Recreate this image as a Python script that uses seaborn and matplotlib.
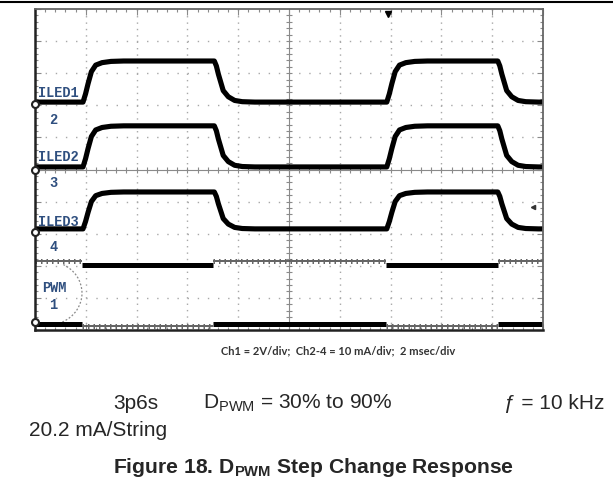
import numpy as np
import pandas as pd
import matplotlib
matplotlib.use("Agg")  # no display in the sandbox
import matplotlib.pyplot as plt
from matplotlib.lines import Line2D
from matplotlib.patches import Arc
import seaborn as sns

# ---------------------------------------------------------------------------
# Data (x in ms, 2 ms/div; y in screen divisions)
# ---------------------------------------------------------------------------
T_MAX_MS = 20.0
Y_HALF_DIV = 5.0

pwm_edges_ms = [1.85, 7.01, 13.82, 18.23]
pwm_duty = ["30%", "90%", "30%", "90%", "30%"]
pwm_high_30_div = -2.85
pwm_high_90_div = -2.98
pwm_low_30_div = -4.81
pwm_low_90_div = -4.88
pwm_ground_div = -4.75

led_rise_ms = [1.89, 13.85]
led_fall_ms = [7.06, 18.22]

# step shapes: time after the edge (ms) and fraction of the step done
rise_dt_ms = [0.0, 0.1, 0.2, 0.33, 0.5, 0.75, 1.1, 1.6]
rise_frac = [0.0, 0.2, 0.45, 0.74, 0.9, 0.96, 0.99, 1.0]
fall_dt_ms = [0.0, 0.08, 0.16, 0.35, 0.55, 0.8, 1.1, 1.6]
fall_frac = [0.0, 0.12, 0.32, 0.72, 0.87, 0.96, 0.99, 1.0]

channels = ["ILED1", "ILED2", "ILED3"]
led_low_div = [2.10, 0.08, -1.85]
led_high_div = [3.38, 1.36, -0.70]
led_ground_div = [2.04, 0.0, -1.95]

trace_labels = ["ILED1", "ILED2", "ILED3", "PWM"]
trace_label_div = [2.41, 0.42, -1.60, -3.66]
number_labels = ["2", "3", "4", "1"]
number_label_div = [1.57, -0.39, -2.38, -4.19]

LABEL_COLOR = "#2f4f7f"


def led_trace(name, low, high):
    t, v = [0.0], [low]
    for r, f in zip(led_rise_ms, led_fall_ms):
        t += [r + d for d in rise_dt_ms]
        v += [low + (high - low) * k for k in rise_frac]
        t += [f + d for d in fall_dt_ms]
        v += [high - (high - low) * k for k in fall_frac]
    t.append(T_MAX_MS)
    v.append(low)
    return pd.DataFrame({"t": t, "v": v, "channel": name})


df = pd.concat([led_trace(c, lo, hi)
                for c, lo, hi in zip(channels, led_low_div, led_high_div)],
               ignore_index=True)

# ---------------------------------------------------------------------------
# Figure
# ---------------------------------------------------------------------------
sns.set_style("white")
plt.rcParams["font.family"] = ["Liberation Sans", "DejaVu Sans"]
plt.rcParams["mathtext.fontset"] = "custom"
plt.rcParams["mathtext.rm"] = "Liberation Sans"
plt.rcParams["mathtext.bf"] = "Liberation Sans:bold"
plt.rcParams["mathtext.it"] = "Liberation Sans:italic"

fig = plt.figure(figsize=(6.13, 4.89), dpi=100)
ax = fig.add_axes([35 / 613, 1 - 331 / 489, 508 / 613, 321 / 489])
ax.set_xlim(0, T_MAX_MS)
ax.set_ylim(-Y_HALF_DIV, Y_HALF_DIV)

# dotted graticule
for gx in np.arange(2, T_MAX_MS, 2):
    if gx != 10:
        ax.axvline(gx, color="#a8a8a8", lw=1.0, ls=(0, (1, 3.6)), zorder=0)
for gy in np.arange(-4, 5, 1):
    if gy != 0:
        ax.axhline(gy, color="#a8a8a8", lw=1.0, ls=(0, (1, 6.3)), zorder=0)

# centre cross with minor ticks
ax.axvline(10, color="#8a8a8a", lw=0.8, zorder=0)
ax.axhline(0, color="#8a8a8a", lw=0.8, zorder=0)
cx = np.arange(0.4, T_MAX_MS, 0.4)
cy = np.arange(-4.8, 5, 0.2)
ax.plot(cx, np.zeros_like(cx), ls="none", marker="|", ms=4, mew=0.8,
        color="#8a8a8a", zorder=0)
ax.plot(np.full_like(cy, 10), cy, ls="none", marker="_", ms=4, mew=0.8,
        color="#8a8a8a", zorder=0)

# LED current traces
sns.lineplot(data=df, x="t", y="v", units="channel", estimator=None,
             sort=False, color="black", lw=3.7, legend=False, ax=ax)

# PWM trace (fast PWM shows as a top and a bottom rail)
seg_edges = [0.0] + pwm_edges_ms + [T_MAX_MS]
for t0, t1, duty in zip(seg_edges[:-1], seg_edges[1:], pwm_duty):
    if duty == "90%":
        thick, thin = pwm_high_90_div, pwm_low_90_div
    else:
        thick, thin = pwm_low_30_div, pwm_high_30_div
    ax.hlines(thick, t0, t1, color="black", lw=3.6)
    ax.hlines(thin, t0, t1, color="#555555", lw=1.3)
    ax.hlines(thin, t0, t1, color="#666666", lw=3.6,
              linestyles=(0, (0.3, 0.8)))

# ground markers on the left edge
ax.plot([0] * 4, led_ground_div + [pwm_ground_div], ls="none", marker="o",
        ms=5, mfc="white", mec="#222222", mew=1.5, clip_on=False, zorder=5)

# trigger position / level markers
ax.plot([13.9], [4.85], ls="none", marker="v", ms=4, color="black",
        clip_on=False)
ax.plot([19.6], [-1.17], ls="none", marker="<", ms=3, color="#333333",
        clip_on=False)

# dotted arc around the PWM label
ax.add_patch(Arc((0.51, -3.85), 2.68, 1.99, theta1=-58, theta2=58,
                 color="#8a8a8a", lw=0.9, ls=(0, (1.5, 1.5))))

# channel labels
for name, y in zip(trace_labels, trace_label_div):
    x0 = 0.28 if name == "PWM" else 0.12
    ax.text(x0, y, name, family="Liberation Mono", fontweight="bold",
            fontsize=9.8, color=LABEL_COLOR, ha="left", va="center")
for num, y in zip(number_labels, number_label_div):
    ax.text(0.73, y, num, family="Liberation Mono", fontweight="bold",
            fontsize=9.8, color=LABEL_COLOR, ha="center", va="center")

# frame
ax.set_xticks(np.arange(0, T_MAX_MS + 0.1, 2))
ax.set_yticks(np.arange(-5, 6, 1))
ax.set_xticks(np.arange(0, T_MAX_MS + 0.1, 0.4), minor=True)
ax.set_yticks(np.arange(-5, 5.1, 0.2), minor=True)
ax.tick_params(which="both", direction="in", top=True, right=True,
               bottom=True, left=True, labelbottom=False, labelleft=False,
               color="#8a8a8a", width=0.8)
ax.tick_params(which="major", length=4)
ax.tick_params(which="minor", length=2.5)
ax.set_xlabel("")
ax.set_ylabel("")
for side in ["top", "right"]:
    ax.spines[side].set_color("#666666")
    ax.spines[side].set_linewidth(1.3)
for side in ["left", "bottom"]:
    ax.spines[side].set_color("#222222")
    ax.spines[side].set_linewidth(1.8)

# page header rule
fig.add_artist(Line2D([0, 1], [1 - 3 / 489, 1 - 3 / 489], color="black",
                      lw=1.5))

# captions
fig.text(338 / 613, 1 - 354 / 489,
         "Ch1 = 2V/div;  Ch2-4 = 10 mA/div;  2 msec/div",
         family="Lato", fontweight="bold", fontsize=8, color="#333333",
         ha="center", va="baseline")
fig.text(113 / 613, 1 - 409 / 489, "3p6s", fontsize=15, ha="left",
         va="baseline")
fig.text(203 / 613, 1 - 409 / 489, r"D$_{\mathrm{PWM}}$ = 30% to 90%",
         fontsize=15, ha="left", va="baseline")
fig.text(504 / 613, 1 - 409 / 489, "\u0192 = 10 kHz", fontsize=15,
         ha="left", va="baseline")
fig.text(29 / 613, 1 - 436 / 489, "20.2 mA/String", fontsize=15,
         ha="left", va="baseline")
fig.text(313 / 613, 1 - 473 / 489,
         r"Figure 18. D$_{\mathbf{PWM}}$ Step Change Response",
         fontsize=15.2, fontweight="bold", ha="center", va="baseline")

fig.savefig("out.png", dpi=100)
